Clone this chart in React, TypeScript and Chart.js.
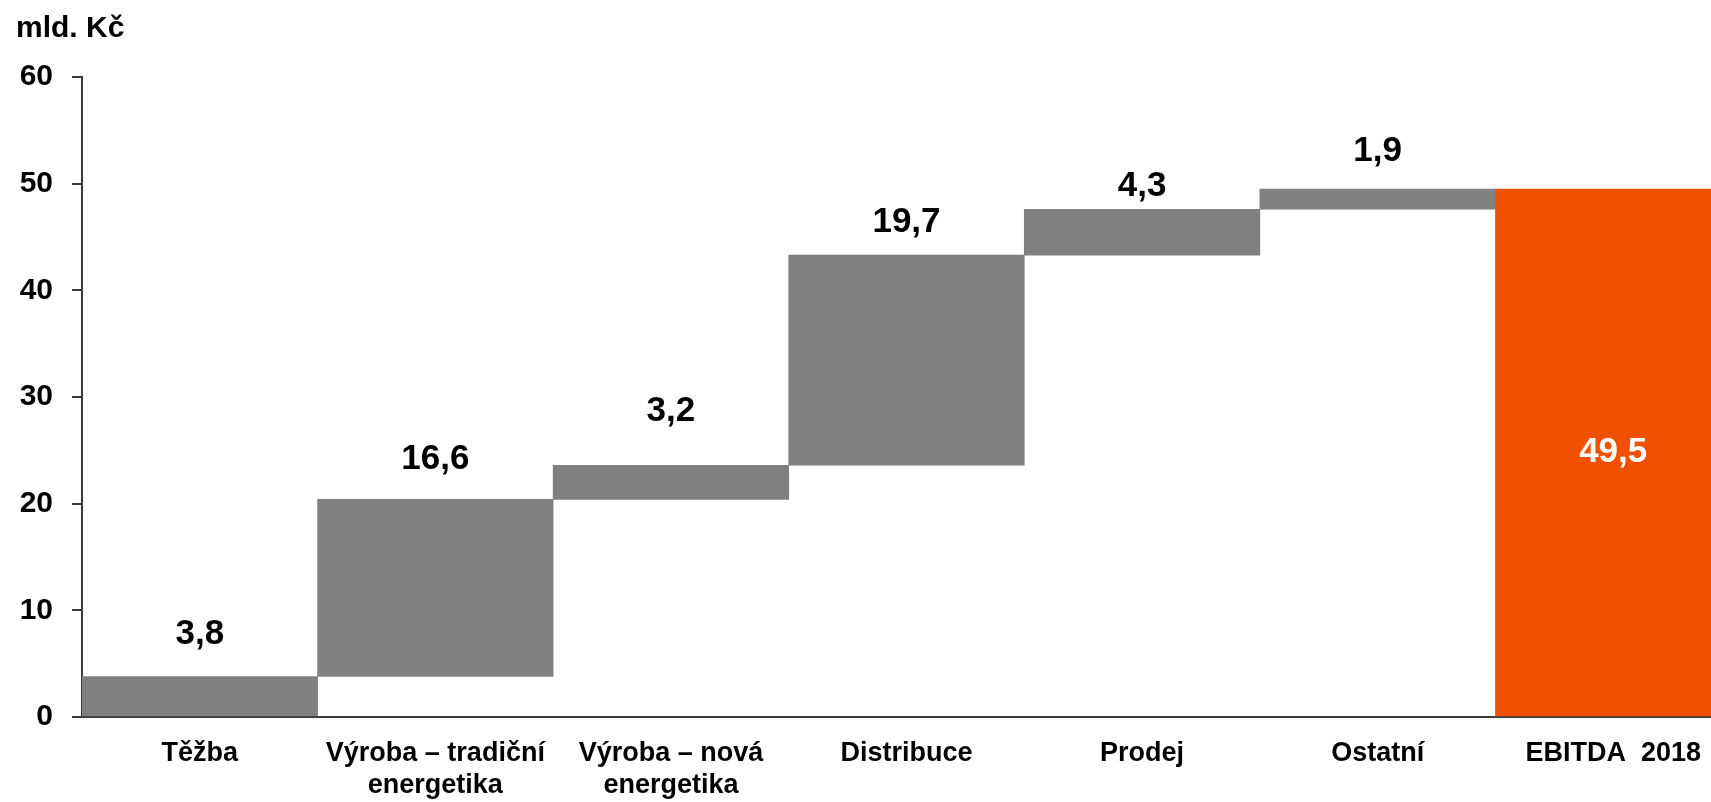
import React, { useEffect, useRef } from "react";
import { Chart, registerables } from "chart.js";

Chart.register(...registerables);

// ---- data ----
const categories: (string | string[])[] = [
  "Těžba",
  ["Výroba – tradiční", "energetika"],
  ["Výroba – nová", "energetika"],
  "Distribuce",
  "Prodej",
  "Ostatní",
  "EBITDA  2018",
];
const increments = [3.8, 16.6, 3.2, 19.7, 4.3, 1.9];
const totalValue = 49.5;
const valueLabels = ["3,8", "16,6", "3,2", "19,7", "4,3", "1,9", "49,5"];
const unitLabel = "mld. Kč";
const yMin = 0;
const yMax = 60;
const yStep = 10;

// ---- styles ----
const FONT = "'Liberation Sans', Arial, Helvetica, sans-serif";
const GRAY = "#808080";
const ORANGE = "#F05000";
const AXIS = "#3a3a3a";
// px lift of each value label centre above its bar top
const LABEL_LIFT = [42, 40, 54, 33, 23, 38];

export default function App() {
  const ref = useRef<HTMLCanvasElement | null>(null);

  useEffect(() => {
    const canvas = ref.current;
    if (!canvas) return;

    const floating: [number, number][] = [];
    let acc = 0;
    for (const inc of increments) {
      floating.push([acc, acc + inc]);
      acc += inc;
    }
    floating.push([0, totalValue]);
    const colors = categories.map((_, i) => (i === categories.length - 1 ? ORANGE : GRAY));

    const labelPlugin = {
      id: "valueLabels",
      afterDatasetsDraw(chart: any) {
        const ctx = chart.ctx;
        const meta = chart.getDatasetMeta(0);
        ctx.save();
        ctx.font = `bold 35px ${FONT}`;
        ctx.textAlign = "center";
        ctx.textBaseline = "middle";
        meta.data.forEach((el: any, i: number) => {
          const top = Math.min(el.y, el.base);
          const bottom = Math.max(el.y, el.base);
          if (i === meta.data.length - 1) {
            ctx.fillStyle = "#ffffff";
            ctx.fillText(valueLabels[i], el.x, (top + bottom) / 2);
          } else {
            ctx.fillStyle = "#000000";
            ctx.fillText(valueLabels[i], el.x, top - LABEL_LIFT[i]);
          }
        });
        ctx.restore();
      },
      afterDraw(chart: any) {
        const ctx = chart.ctx;
        ctx.save();
        ctx.font = `bold 30px ${FONT}`;
        ctx.fillStyle = "#000000";
        ctx.textAlign = "left";
        ctx.textBaseline = "alphabetic";
        ctx.fillText(unitLabel, 16, 37);
        ctx.restore();
      },
    };

    const chart = new Chart(canvas, {
      type: "bar",
      data: {
        labels: categories as any,
        datasets: [
          {
            data: floating as any,
            backgroundColor: colors,
            borderWidth: 0,
            barPercentage: 1,
            categoryPercentage: 1,
          },
        ],
      },
      options: {
        responsive: false,
        animation: false,
        devicePixelRatio: 1,
        layout: { padding: { top: 77, left: 0, right: 0, bottom: 0 } },
        plugins: {
          legend: { display: false },
          tooltip: { enabled: false },
          title: { display: false },
        },
        scales: {
          x: {
            grid: { display: false, drawTicks: false, drawOnChartArea: false },
            border: { display: true, color: AXIS, width: 2 },
            ticks: {
              autoSkip: false,
              maxRotation: 0,
              minRotation: 0,
              padding: 21,
              color: "#000000",
              font: { family: FONT, size: 27, weight: "bold", lineHeight: 1.185 },
            },
            afterFit: (scale: any) => {
              scale.height = 85;
            },
          },
          y: {
            min: yMin,
            max: yMax,
            grid: {
              display: true,
              drawOnChartArea: false,
              drawTicks: true,
              tickLength: 10,
              color: AXIS,
              lineWidth: 2,
            },
            border: { display: true, color: AXIS, width: 2 },
            ticks: {
              stepSize: yStep,
              padding: 19,
              color: "#000000",
              font: { family: FONT, size: 30, weight: "bold" },
            },
            afterFit: (scale: any) => {
              scale.width = 82;
            },
          },
        },
      },
      plugins: [labelPlugin],
    });

    return () => chart.destroy();
  }, []);

  return (
    <div
      style={{
        position: "fixed",
        left: 0,
        top: 0,
        width: "1711px",
        height: "802px",
        overflow: "hidden",
        background: "#ffffff",
      }}
    >
      <canvas ref={ref} width={1731} height={802} style={{ display: "block" }} />
    </div>
  );
}
